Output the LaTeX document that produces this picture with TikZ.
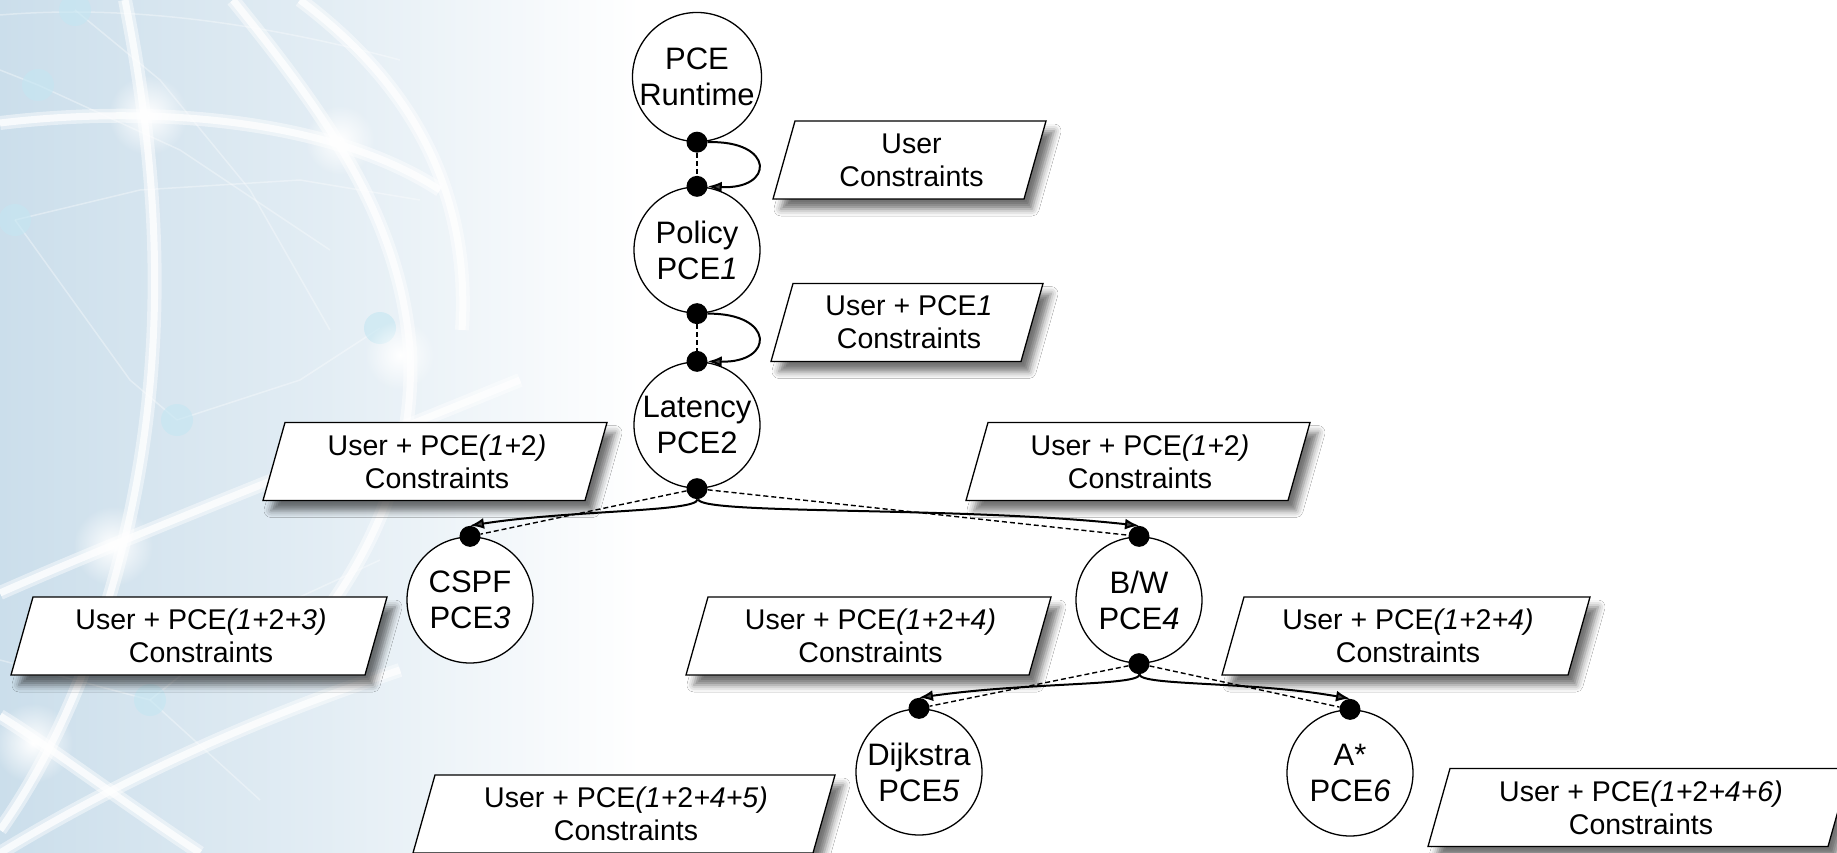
\documentclass[tikz,border=0pt]{standalone}
\usepackage{fontspec}
\setmainfont{Liberation Sans}
\usetikzlibrary{arrows.meta,shadows.blur,fadings}
\definecolor{bgblue}{RGB}{203,222,235}
\definecolor{dotcyan}{RGB}{196,230,242}
\tikzfading[name=glowfade, inner color=transparent!0, outer color=transparent!100]
% #1 name, #2 x centre, #3 y centre, #4 overall width, #5 text
\newcommand{\pgbox}[5]{%
  \path[pgshape] (#2-#4/2+22,#3-39) -- (#2+#4/2,#3-39) -- (#2+#4/2-22,#3+39) -- (#2-#4/2,#3+39) -- cycle;
  \node[pbtext] (#1) at (#2+2,#3) {#5};
}
\begin{document}
\begin{tikzpicture}[x=1pt,y=-1pt,
  pce/.style={circle, draw, line width=1.3pt, fill=white, minimum size=126pt, inner sep=0pt,
    align=center, font=\fontsize{31}{36}\selectfont},
  dotst/.style={circle, fill=black, minimum size=21pt, inner sep=0pt},
  pgshape/.style={draw, line width=1.3pt, fill=white, line join=miter,
    blur shadow={shadow xshift=8pt, shadow yshift=-10pt, shadow blur radius=7pt, shadow opacity=55}},
  pbtext/.style={inner sep=0pt, align=center, font=\fontsize{28.5}{33}\selectfont},
  flow/.style={line width=2pt, -{Latex[length=14pt,width=11pt]}},
  link/.style={line width=1.4pt, dash pattern=on 5pt off 3pt},
  arcw/.style={white, line width=14pt, opacity=0.45},
  arcc/.style={white, line width=7pt, opacity=0.75},
  thinl/.style={white, line width=1.5pt, opacity=0.35}
]
\useasboundingbox (0,0) rectangle (1837,853);
\fill[white] (0,0) rectangle (1837,853);
\shade[left color=bgblue, right color=white, middle color=bgblue!55!white] (0,0) rectangle (640,853);
% globe decoration
\begin{scope}
\clip (0,0) rectangle (640,853);
\foreach \s in {arcw,arcc}{
  \draw[\s] (125,0) .. controls (165,200) and (165,380) .. (122,550) .. controls (95,660) and (50,760) .. (0,830);
  \draw[\s] (0,123) .. controls (150,105) and (330,118) .. (440,190);
  \draw[\s] (233,0) .. controls (330,120) and (400,220) .. (410,350) .. controls (415,450) and (380,540) .. (320,620);
  \draw[\s] (300,0) .. controls (420,90) and (470,200) .. (462,330);
  \draw[\s] (0,593) .. controls (120,540) and (300,470) .. (520,380);
  \draw[\s] (0,716) .. controls (40,740) and (120,800) .. (200,853);
  \draw[\s] (0,853) .. controls (120,780) and (250,720) .. (400,670);
}
\draw[thinl] (0,15) .. controls (120,5) and (250,20) .. (400,60);
\draw[thinl] (0,70) -- (38,85) -- (180,150) -- (330,250);
\draw[thinl] (15,220) -- (140,190) -- (300,180) -- (420,200);
\draw[thinl] (15,220) -- (130,380) -- (177,420);
\draw[thinl] (75,10) -- (160,80) -- (250,190) -- (330,330);
\draw[thinl] (380,328) -- (300,380) -- (177,420);
\draw[thinl] (150,700) -- (250,620) -- (380,560);
\draw[thinl] (0,660) -- (150,700) -- (260,800);
\foreach \p in {(75,10),(38,85),(15,220),(380,328),(177,420),(150,700)}
  \fill[dotcyan, opacity=0.6] \p circle (16);
\foreach \p/\r in {(148,115)/40,(340,140)/35,(400,355)/35,(113,546)/40,(33,743)/40}
  \fill[white, path fading=glowfade] \p circle (\r);
\end{scope}

% PCE nodes
\node[pce] (rt) at (697,77)  {PCE\\Runtime};
\node[pce] (p1) at (697,250) {Policy\\PCE\textit{1}};
\node[pce] (p2) at (697,425) {Latency\\PCE2};
\node[pce] (p3) at (470,600) {CSPF\\PCE\textit{3}};
\node[pce] (p4) at (1139,600) {B/W\\PCE\textit{4}};
\node[pce] (p5) at (919,772) {Dijkstra\\PCE\textit{5}};
\node[pce] (p6) at (1350,773) {A*\\PCE\textit{6}};

% constraint boxes
\pgbox{b0}{909.5}{160}{273}{User\\Constraints}
\pgbox{b1}{907}{322.5}{272}{User + PCE\textit{1}\\Constraints}
\pgbox{b2}{435}{461.5}{344}{User + PCE\textit{(1+}2\textit{)}\\Constraints}
\pgbox{b3}{1138}{461.5}{344}{User + PCE\textit{(1+}2\textit{)}\\Constraints}
\pgbox{b4}{199}{636}{376}{User + PCE\textit{(1+}2\textit{+3)}\\Constraints}
\pgbox{b5}{868.5}{636}{365}{User + PCE\textit{(1+}2\textit{+4)}\\Constraints}
\pgbox{b6}{1406}{636}{368}{User + PCE\textit{(1+}2\textit{+4)}\\Constraints}
\pgbox{b7}{624}{814}{422}{User + PCE\textit{(1+}2\textit{+4+5)}\\Constraints}
\pgbox{b8}{1639}{807.5}{422}{User + PCE\textit{(1+}2\textit{+4+6)}\\Constraints}

% dots
\node[dotst] (rts) at (rt.south) {};
\node[dotst] (p1n) at (p1.north) {};
\node[dotst] (p1s) at (p1.south) {};
\node[dotst] (p2n) at (p2.north) {};
\node[dotst] (p2s) at (p2.south) {};
\node[dotst] (p3n) at (p3.north) {};
\node[dotst] (p4n) at (p4.north) {};
\node[dotst] (p4s) at (p4.south) {};
\node[dotst] (p5n) at (p5.north) {};
\node[dotst] (p6n) at (p6.north) {};

% links
\draw[link] (rts) -- (p1n);
\draw[link] (p1s) -- (p2n);
\draw[link] (p2s) -- (p3n);
\draw[link] (p2s) -- (p4n);
\draw[link] (p4s) -- (p5n);
\draw[link] (p4s) -- (p6n);

\draw[flow] (rts.east) .. controls (775,140) and (775,190) .. (p1n.east);
\draw[flow] (p1s.east) .. controls (775,313) and (775,363) .. (p2n.east);
\draw[flow] (p2s) .. controls (698,512) and (570,510) .. (p3n.north);
\draw[flow] (p2s) .. controls (700,515) and (960,506) .. (p4n.north);
\draw[flow] (p4s) .. controls (1140,686) and (1030,682) .. (p5n.north);
\draw[flow] (p4s) .. controls (1140,686) and (1250,681) .. (p6n.north);
\end{tikzpicture}
\end{document}
